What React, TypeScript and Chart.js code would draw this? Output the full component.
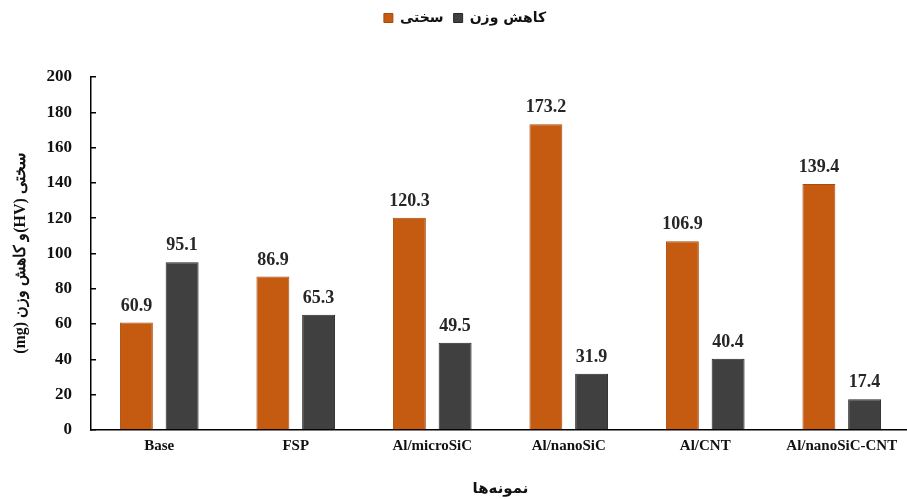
import { useEffect, useRef } from 'react';
import { Chart, registerables } from 'chart.js';

Chart.register(...registerables);

// Samples (x categories)
const categories = ['Base', 'FSP', 'Al/microSiC', 'Al/nanoSiC', 'Al/CNT', 'Al/nanoSiC-CNT'];
// Hardness (HV)
const hardness = [60.9, 86.9, 120.3, 173.2, 106.9, 139.4];
// Weight loss (mg)
const weightLoss = [95.1, 65.3, 49.5, 31.9, 40.4, 17.4];
const seriesNames = ['سختی', 'کاهش وزن'];
const yTitle = '\u2067سختی (HV)و کاهش وزن (mg)\u2069';
const xTitle = 'نمونه‌ها';
const yMin = 0;
const yMax = 200;
const yStep = 20;

const ORANGE = '#C55A11';
const ORANGE_EDGE = '#A84C0E';
const DARK = '#404040';
const DARK_EDGE = '#262626';

const SERIF = '"Liberation Serif", "Times New Roman", serif';
const PERSIAN = '"DejaVu Sans", sans-serif';

// Extra room below the legend and a small horizontal nudge
const legendSpacer = {
  id: 'legendSpacer',
  beforeLayout(chart: any) {
    const lg = chart.legend;
    if (lg && !lg.__spaced) {
      const fit = lg.fit.bind(lg);
      lg.fit = function () {
        fit();
        this.height += 42;
      };
      lg.__spaced = true;
    }
  },
  afterLayout(chart: any) {
    if (chart.legend) chart.legend.left += 20;
  },
};

// Value labels above each bar
const barValues = {
  id: 'barValues',
  afterDatasetsDraw(chart: any) {
    const ctx = chart.ctx;
    ctx.save();
    ctx.font = `bold 18px ${SERIF}`;
    ctx.fillStyle = '#262626';
    ctx.textAlign = 'center';
    ctx.textBaseline = 'alphabetic';
    chart.data.datasets.forEach((ds: any, di: number) => {
      const meta = chart.getDatasetMeta(di);
      meta.data.forEach((bar: any, i: number) => {
        const v = ds.data[i] as number;
        ctx.fillText(v.toFixed(1), bar.x, bar.y - 12);
      });
    });
    ctx.restore();
  },
};

export default function App() {
  const ref = useRef<HTMLCanvasElement | null>(null);

  useEffect(() => {
    if (!ref.current) return;
    const chart = new Chart(ref.current, {
      type: 'bar',
      data: {
        labels: categories,
        datasets: [
          {
            label: seriesNames[0],
            data: hardness,
            backgroundColor: ORANGE,
            borderColor: ORANGE_EDGE,
            borderWidth: 1,
            categoryPercentage: 0.67,
            barPercentage: 0.72,
          },
          {
            label: seriesNames[1],
            data: weightLoss,
            backgroundColor: DARK,
            borderColor: DARK_EDGE,
            borderWidth: 1,
            categoryPercentage: 0.67,
            barPercentage: 0.72,
          },
        ],
      },
      options: {
        responsive: false,
        animation: false,
        layout: { padding: { top: 1, left: 0, right: 0, bottom: 0 } },
        plugins: {
          tooltip: { enabled: false },
          legend: {
            position: 'top',
            labels: {
              boxWidth: 9,
              boxHeight: 9,
              padding: 10,
              color: '#111',
              font: { family: PERSIAN, size: 14, weight: 'bold' },
            },
          },
        },
        scales: {
          x: {
            afterFit: (s: any) => {
              s.height = 69;
            },
            grid: { display: false, drawTicks: false },
            border: { display: true, color: '#000', width: 1.5 },
            ticks: {
              color: '#111',
              padding: 7,
              font: { family: SERIF, size: 15, weight: 'bold' },
            },
            title: {
              display: true,
              text: xTitle,
              color: '#111',
              padding: { top: 0, bottom: 1 },
              font: { family: PERSIAN, size: 15, weight: 'bold' },
            },
          },
          y: {
            min: yMin,
            max: yMax,
            afterFit: (s: any) => {
              s.width = 91;
            },
            grid: {
              drawOnChartArea: false,
              drawTicks: true,
              tickLength: -5,
              color: '#000',
              lineWidth: 1.5,
            },
            border: { display: true, color: '#000', width: 1.5 },
            ticks: {
              stepSize: yStep,
              color: '#111',
              padding: 24,
              font: { family: SERIF, size: 17, weight: 'bold' },
            },
            title: {
              display: true,
              text: yTitle,
              color: '#111',
              padding: { top: 11, bottom: 0 },
              font: { family: SERIF, size: 16, weight: 'bold' },
            },
          },
        },
      },
      plugins: [legendSpacer, barValues],
    });
    return () => chart.destroy();
  }, []);

  return (
    <div
      style={{
        position: 'fixed',
        left: 0,
        top: 0,
        width: 907,
        height: 499,
        overflow: 'hidden',
        background: '#fff',
      }}
    >
      <canvas ref={ref} width={910} height={499} style={{ display: 'block', width: 910, height: 499 }} />
    </div>
  );
}
